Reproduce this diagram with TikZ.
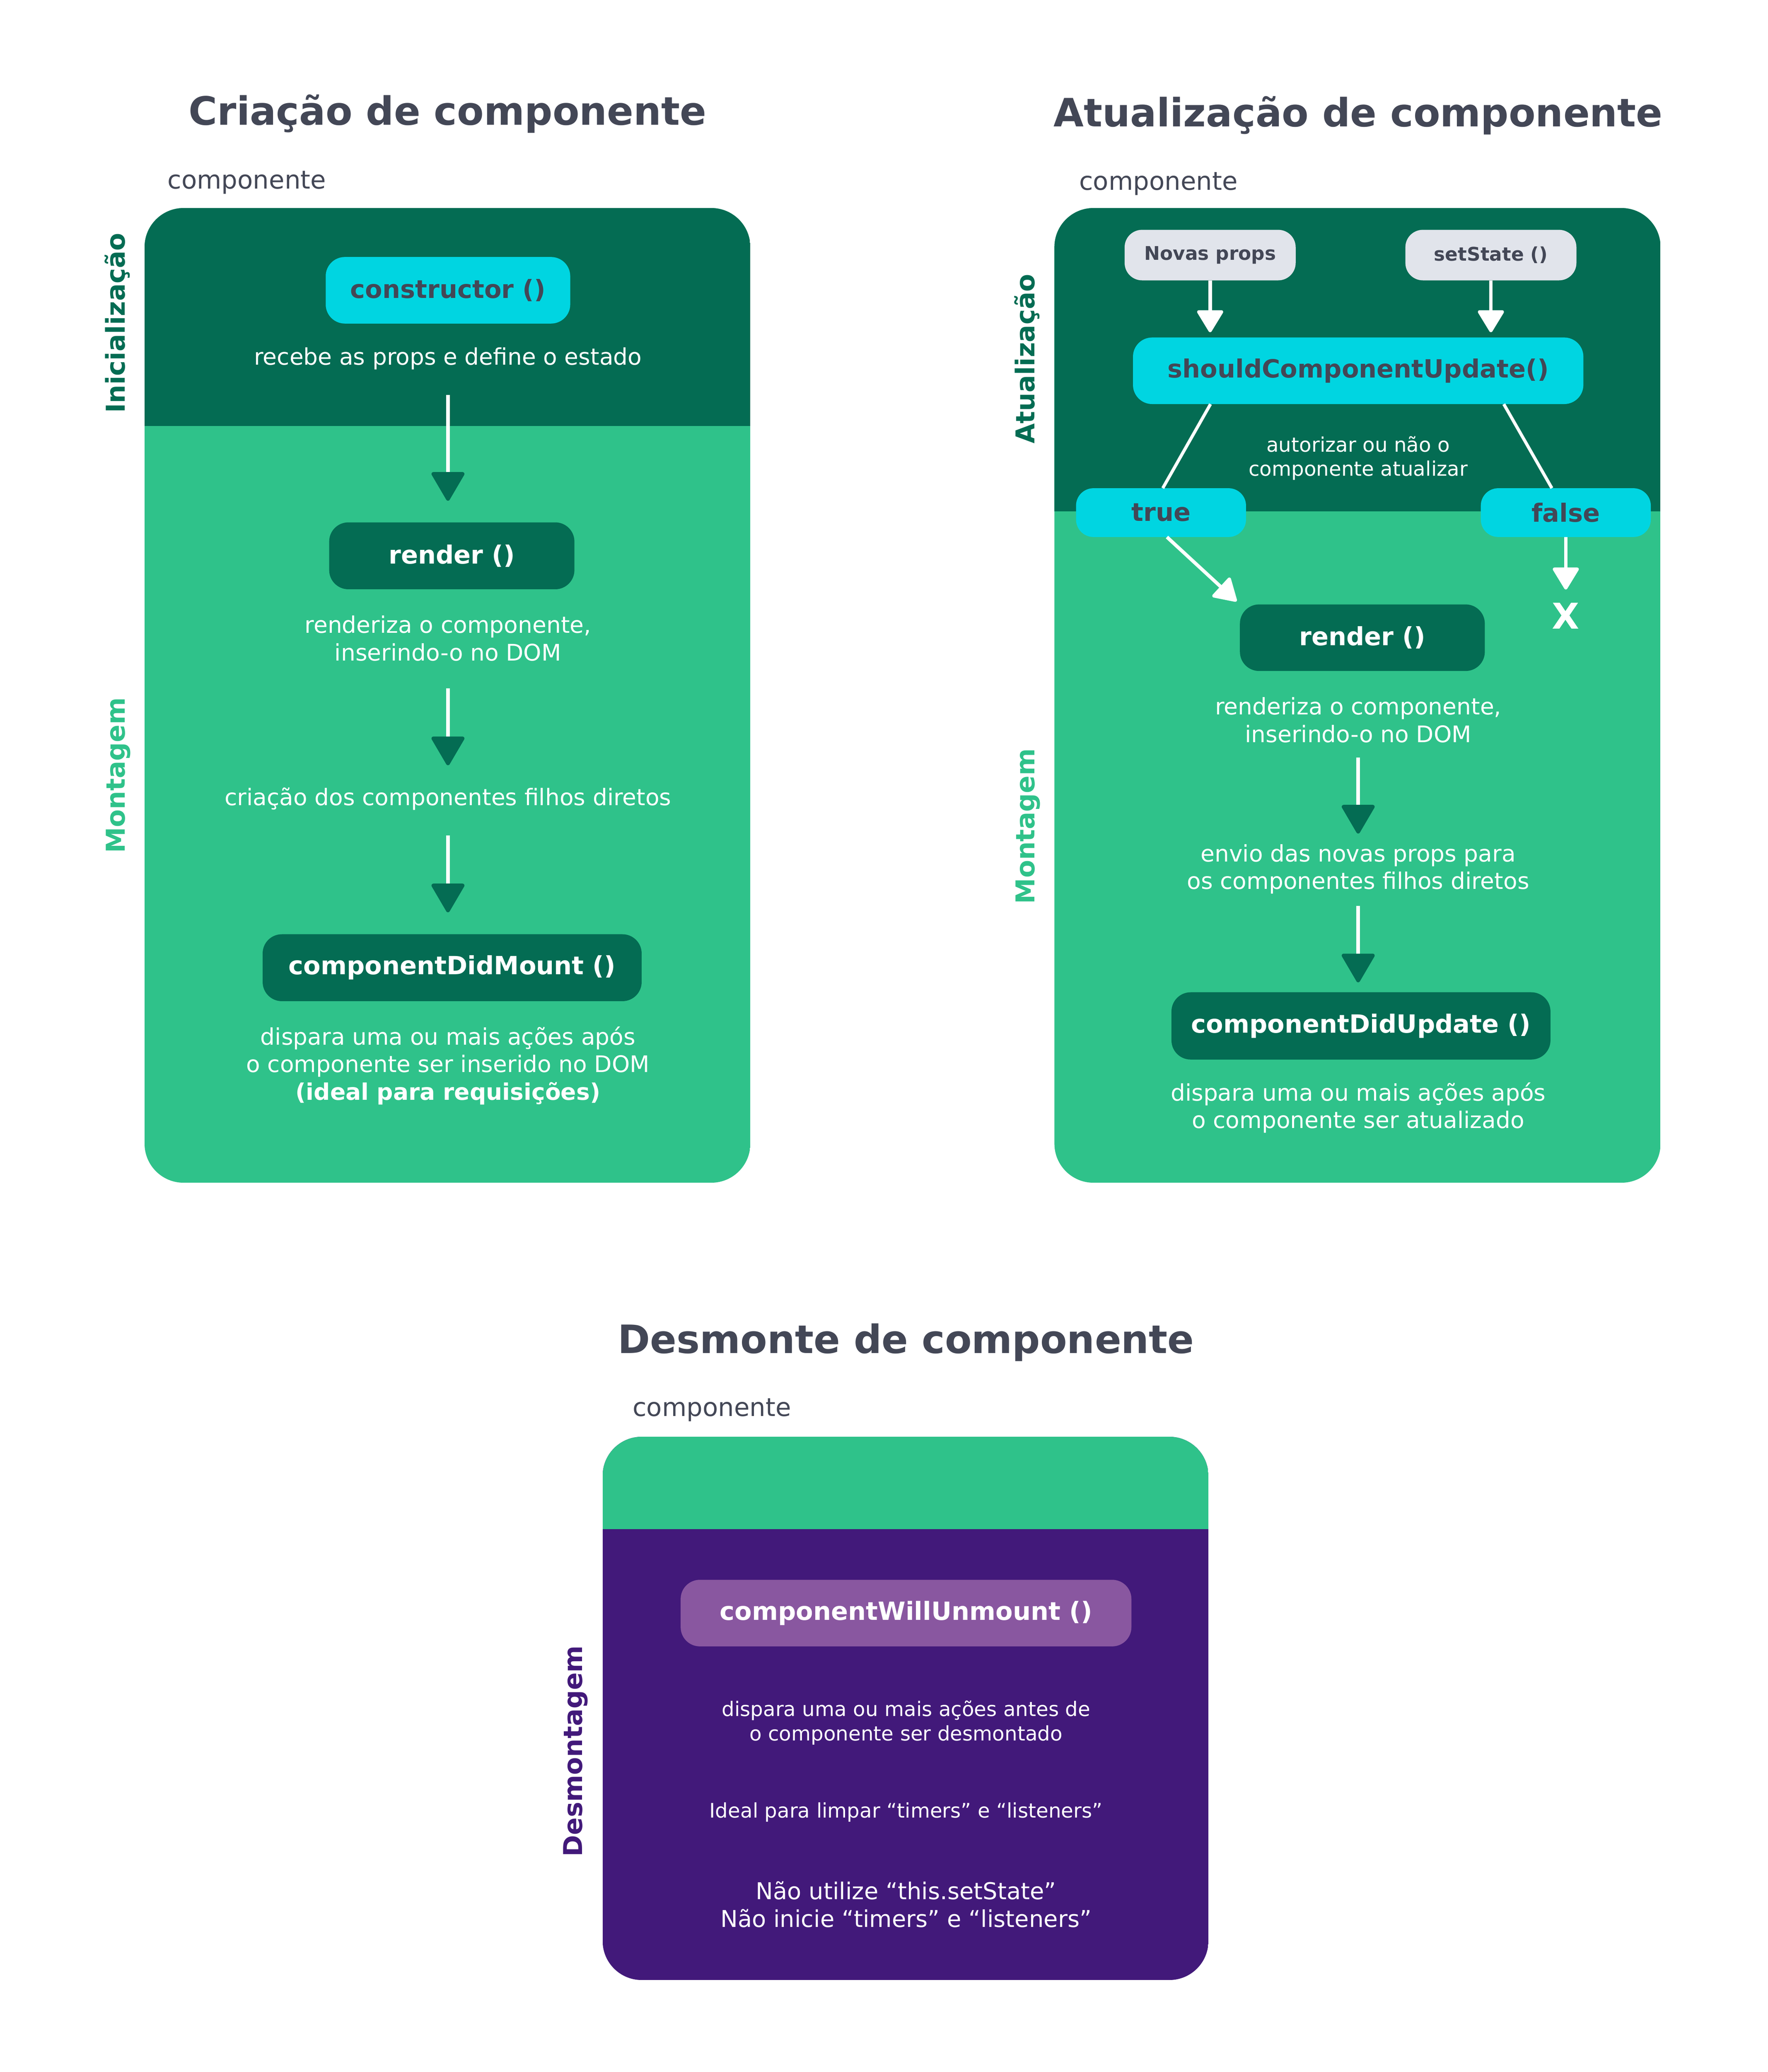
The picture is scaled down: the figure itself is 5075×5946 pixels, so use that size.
\documentclass[tikz,border=0pt]{standalone}
\usepackage{fontspec}
\setmainfont{DejaVu Sans}
\usetikzlibrary{arrows.meta,calc}
\definecolor{dkg}{HTML}{046C53}
\definecolor{ltg}{HTML}{2FC28A}
\definecolor{cyn}{HTML}{00D5E1}
\definecolor{txt}{HTML}{434756}
\definecolor{gry}{HTML}{E1E4EB}
\definecolor{pur}{HTML}{42197A}
\definecolor{lpur}{HTML}{8957A0}
\begin{document}
\begin{tikzpicture}[x=1pt,y=-1pt,
  ttlsty/.style={text=txt, font=\bfseries\fontsize{112}{134}\selectfont, anchor=base, inner sep=0pt},
  lblsty/.style={text=txt, font=\fontsize{72.5}{87}\selectfont, anchor=base west, inner sep=0pt},
  sidesty/.style={font=\bfseries\fontsize{74.5}{89}\selectfont, rotate=90, anchor=base, inner sep=0pt},
  pill/.style={rounded corners=55pt, inner sep=0pt, font=\bfseries\fontsize{72}{86}\selectfont},
  minipill/.style={rounded corners=50pt, inner sep=0pt, fill=gry, text=txt, minimum width=491pt, minimum height=145pt, font=\bfseries\fontsize{54}{65}\selectfont},
  bodytxt/.style={text=white, font=\fontsize{65.5}{79}\selectfont, align=center, inner sep=0pt},
  smalltxt/.style={text=white, font=\fontsize{57.5}{70}\selectfont, align=center, inner sep=0pt},
  garr/.style={white, line width=11pt, -{Triangle[width=100pt,length=88pt,round,color=dkg,fill=dkg]}},
  warr/.style={white, line width=10pt, -{Triangle[width=80pt,length=68pt,round]}},
  wline/.style={white, line width=9pt}
]
\fill[white] (0,0) rectangle (5075,5946);
\useasboundingbox (0,0) rectangle (5075,5946);

% ================= Left panel =================
\node[ttlsty] (t1) at (1285,358) {Criação de componente};
\node[lblsty] (c1) at (481,542) {componente};
\begin{scope}
  \clip[rounded corners=112pt] (415,597) rectangle (2154,3394);
  \fill[ltg] (415,597) rectangle (2154,3394);
  \fill[dkg] (415,597) rectangle (2154,1222);
\end{scope}
\node[sidesty, text=dkg] (ini) at (358,927) {Inicialização};
\node[sidesty, text=ltg] (mon1) at (358,2225) {Montagem};

\node[pill, fill=cyn, text=txt, minimum width=702pt, minimum height=191pt] (ctor) at (1286,833) {constructor ()};
\node[bodytxt] (rec) at (1286,1029) {recebe as props e define o estado};
\node[pill, fill=dkg, text=white, minimum width=704pt, minimum height=192pt] (rnd1) at (1297,1595) {render ()};
\node[bodytxt] (rz1) at (1286,1832) {renderiza o componente,\\inserindo-o no DOM};
\node[bodytxt] (cri) at (1286,2292) {criação dos componentes filhos diretos};
\node[pill, fill=dkg, text=white, minimum width=1088pt, minimum height=192pt] (cdm) at (1298,2777) {componentDidMount ()};
\node[bodytxt] (dm) at (1286,3058) {dispara uma ou mais ações após\\o componente ser inserido no DOM\\\textbf{(ideal para requisições)}};

\coordinate (a1s) at (1286,1133); \coordinate (a1e) at (1286,1437);
\coordinate (a2s) at (1286,1975); \coordinate (a2e) at (1286,2196);
\coordinate (a3s) at (1286,2397); \coordinate (a3e) at (1286,2618);
\draw[garr] (a1s) -- (a1e);
\draw[garr] (a2s) -- (a2e);
\draw[garr] (a3s) -- (a3e);

% ================= Right panel =================
\node[ttlsty] (t2) at (3899,363) {Atualização de componente};
\node[lblsty] (c2) at (3098,545) {componente};
\begin{scope}
  \clip[rounded corners=112pt] (3027,597) rectangle (4767,3394);
  \fill[ltg] (3027,597) rectangle (4767,3394);
  \fill[dkg] (3027,597) rectangle (4767,1468);
\end{scope}
\node[sidesty, text=dkg] (atu) at (2970,1030) {Atualização};
\node[sidesty, text=ltg] (mon2) at (2970,2371) {Montagem};

\node[minipill] (np) at (3474,732) {Novas props};
\node[minipill] (ss) at (4280,732) {setState ()};
\node[pill, fill=cyn, text=txt, minimum width=1293pt, minimum height=191pt] (scu) at (3899,1064) {shouldComponentUpdate()};
\node[smalltxt] (aut) at (3899,1315) {autorizar ou não o\\componente atualizar};
\node[pill, rounded corners=50pt, fill=cyn, text=txt, minimum width=488pt, minimum height=140pt] (tru) at (3333,1471) {true};
\node[pill, rounded corners=50pt, fill=cyn, text=txt, minimum width=488pt, minimum height=140pt] (fls) at (4495,1471) {false};
\node[text=white, font=\bfseries\fontsize{102}{122}\selectfont, inner sep=0pt] (xx) at (4495,1768) {X};
\node[pill, fill=dkg, text=white, minimum width=703pt, minimum height=191pt] (rnd2) at (3911,1830) {render ()};
\node[bodytxt] (rz2) at (3899,2066) {renderiza o componente,\\inserindo-o no DOM};
\node[bodytxt] (env) at (3899,2494) {envio das novas props para\\os componentes filhos diretos};
\node[pill, fill=dkg, text=white, minimum width=1088pt, minimum height=193pt] (cdu) at (3907,2944) {componentDidUpdate ()};
\node[bodytxt] (du) at (3899,3179) {dispara uma ou mais ações após\\o componente ser atualizado};

\draw[warr, shorten >=15pt] (np.south) -- (np.south |- scu.north);
\draw[warr, shorten >=15pt] (ss.south) -- (ss.south |- scu.north);
\draw[wline] ($(scu.south)+(-424,0)$) -- ($(tru.north)+(5,0)$);
\draw[wline] ($(scu.south)+(418,0)$) -- ($(fls.north)+(-40,0)$);
\draw[warr, shorten >=13pt] ($(tru.south)+(17,0)$) -- (rnd2.north west);
\draw[warr, shorten >=39pt] (fls.south) -- (xx.north);
\coordinate (b1s) at (3899,2174); \coordinate (b1e) at (3899,2392);
\coordinate (b2s) at (3899,2599); \coordinate (b2e) at (3899,2819);
\draw[garr] (b1s) -- (b1e);
\draw[garr] (b2s) -- (b2e);

% ================= Bottom panel =================
\node[ttlsty] (t3) at (2601,3883) {Desmonte de componente};
\node[lblsty] (c3) at (1816,4064) {componente};
\begin{scope}
  \clip[rounded corners=112pt] (1730,4123) rectangle (3469,5682);
  \fill[pur] (1730,4123) rectangle (3469,5682);
  \fill[ltg] (1730,4123) rectangle (3469,4388);
\end{scope}
\node[sidesty, text=pur] (des) at (1671,5025) {Desmontagem};
\node[pill, fill=lpur, text=white, minimum width=1294pt, minimum height=191pt] (cwu) at (2601,4629) {componentWillUnmount ()};
\node[smalltxt] (dd) at (2601,4944) {dispara uma ou mais ações antes de\\o componente ser desmontado};
\node[smalltxt] (idl) at (2601,5200) {Ideal para limpar “timers” e “listeners”};
\node[text=white, font=\fontsize{66.5}{80}\selectfont, align=center, inner sep=0pt] (nao) at (2601,5465) {Não utilize “this.setState”\\Não inicie “timers” e “listeners”};
\end{tikzpicture}
\end{document}
